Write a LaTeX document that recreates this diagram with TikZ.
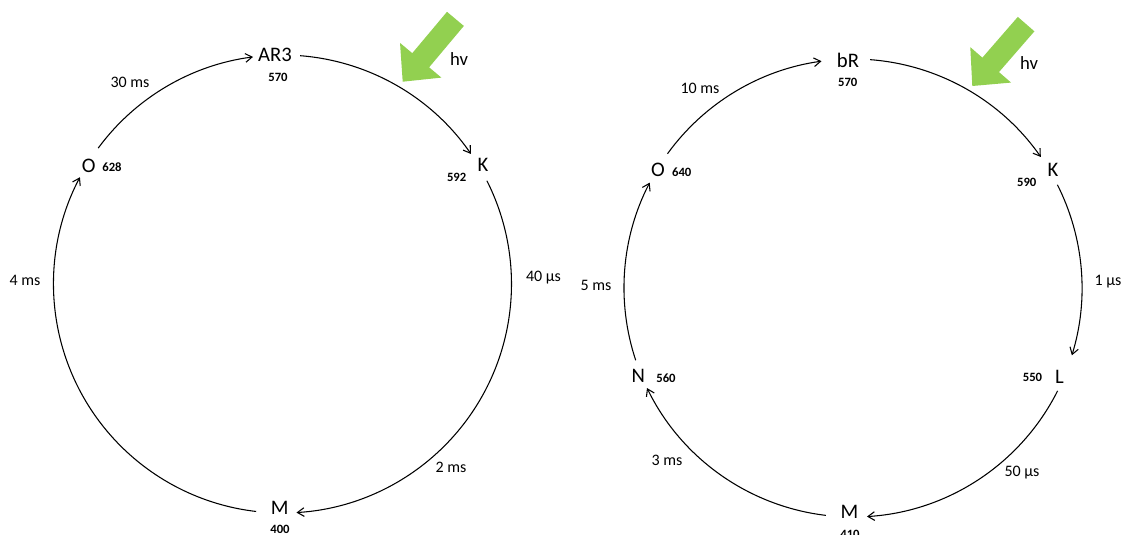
\documentclass[tikz,border=0pt]{standalone}
\usepackage{fontspec}
\setmainfont{Carlito}
\usetikzlibrary{arrows.meta}
\definecolor{hvgreen}{RGB}{146,208,80}
\begin{document}
\begin{tikzpicture}[x=0.75pt,y=-0.75pt,
  st/.style={font=\fontsize{15.5}{18}\selectfont, inner sep=0pt},
  wl/.style={font=\fontsize{9.5}{11}\selectfont\bfseries, inner sep=0pt},
  tl/.style={font=\fontsize{12}{14}\selectfont, inner sep=0pt},
  hvl/.style={font=\fontsize{14}{16}\selectfont, inner sep=0pt},
  cyc/.style={line width=0.8pt, -{Straight Barb[length=5pt,width=6.5pt]}},
  light/.style={fill=hvgreen, draw=none}]
\useasboundingbox (0,0) rectangle (1124,535);
\fill[white] (0,0) rectangle (1124,535);
% ---------- left cycle ----------
\coordinate (cL) at (282.5,284);
\node[st] (AR3) at (275,55) {AR3};
\node[wl] (AR3w) at (278,77) {570};
\node[st] (KL) at (483,165) {K};
\node[wl] (KLw) at (456.7,177.5) {592};
\node[st] (ML) at (279.7,508) {M};
\node[wl] (MLw) at (280,529) {400};
\node[st] (OL) at (88.8,166) {O};
\node[wl] (OLw) at (112,167) {628};
\node[tl] (t30) at (130,82) {30 ms};
\node[tl] (t40) at (543.5,278) {40 µs};
\node[tl] (t2) at (451,467) {2 ms};
\node[tl] (t4) at (25,280.5) {4 ms};
\draw[cyc] (cL) ++(-143.6:229) arc[start angle=-143.6, end angle=-97.4, radius=229];
\draw[cyc] (cL) ++(-85.6:229) arc[start angle=-85.6, end angle=-34.6, radius=229];
\draw[cyc] (cL) ++(-26.8:229) arc[start angle=-26.8, end angle=86.5, radius=229];
\draw[cyc] (cL) ++(96.6:229) arc[start angle=96.6, end angle=207.8, radius=229];
\coordinate (hvL) at (402.7,81.7);
\fill[light, shift={(hvL)}, rotate=50] (0,0) -- (28,27) -- (28,11) -- (82,11) -- (82,-11) -- (28,-11) -- (28,-27) -- cycle;
\node[hvl] (hvLt) at (459,59) {hv};
% ---------- right cycle ----------
\coordinate (cR) at (853,288);
\node[st] (bR) at (848,60) {bR};
\node[wl] (bRw) at (847.7,82) {570};
\node[st] (KR) at (1053,170) {K};
\node[wl] (KRw) at (1026.7,182) {590};
\node[st] (LR) at (1059.5,376.7) {L};
\node[wl] (LRw) at (1032.5,377) {550};
\node[st] (MR) at (849.5,511.7) {M};
\node[wl] (MRw) at (850,534) {410};
\node[st] (NR) at (638.3,376) {N};
\node[wl] (NRw) at (666,378) {560};
\node[st] (OR) at (658,170) {O};
\node[wl] (ORw) at (681.7,172) {640};
\node[tl] (t10) at (700,88) {10 ms};
\node[tl] (t1) at (1108,282) {1 µs};
\node[tl] (t50) at (1022,473) {50 µs};
\node[tl] (t3) at (667,460) {3 ms};
\node[tl] (t5) at (596,285) {5 ms};
\draw[cyc] (cR) ++(-144.1:229) arc[start angle=-144.1, end angle=-97.9, radius=229];
\draw[cyc] (cR) ++(-85.7:229) arc[start angle=-85.7, end angle=-34.9, radius=229];
\draw[cyc] (cR) ++(-26.8:229) arc[start angle=-26.8, end angle=17.1, radius=229];
\draw[cyc] (cR) ++(26.7:229) arc[start angle=26.7, end angle=86.5, radius=229];
\draw[cyc] (cR) ++(96.8:229) arc[start angle=96.8, end angle=154.1, radius=229];
\draw[cyc] (cR) ++(161.6:229) arc[start angle=161.6, end angle=207.4, radius=229];
\coordinate (hvR) at (972.3,86);
\fill[light, shift={(hvR)}, rotate=49] (0,0) -- (28,27) -- (28,11) -- (82,11) -- (82,-11) -- (28,-11) -- (28,-27) -- cycle;
\node[hvl] (hvRt) at (1029,63) {hv};
\end{tikzpicture}
\end{document}
